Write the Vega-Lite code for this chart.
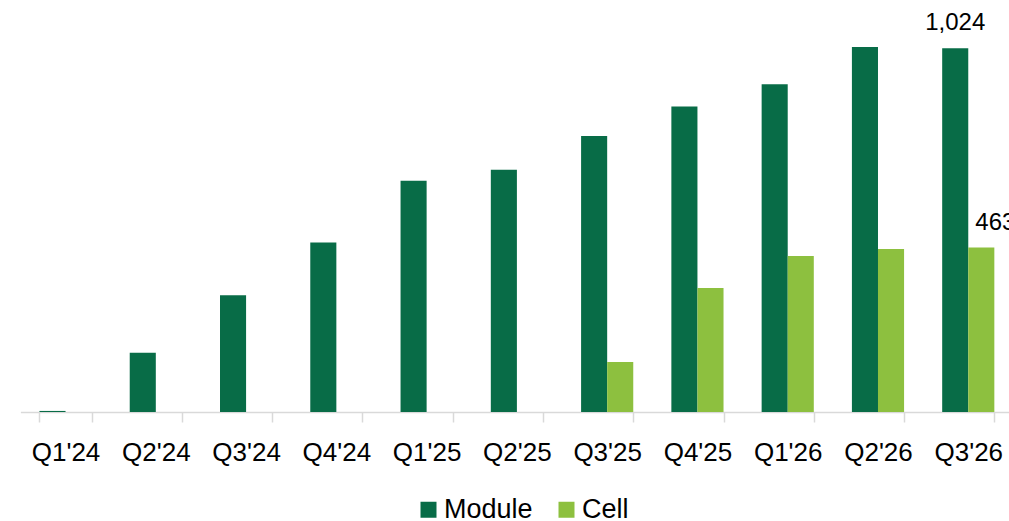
{
  "$schema": "https://vega.github.io/schema/vega-lite/v6.json",
  "width": 989,
  "height": 412,
  "autosize": {"type": "none"},
  "padding": {"left": 20, "top": 0, "right": 0, "bottom": 109},
  "background": "white",
  "config": {"view": {"stroke": null}, "font": "Liberation Sans"},
  "data": {
    "values": [
      {"quarter": "Q1'24", "series": "Module", "value": 3},
      {"quarter": "Q1'24", "series": "Cell", "value": 0},
      {"quarter": "Q2'24", "series": "Module", "value": 167},
      {"quarter": "Q2'24", "series": "Cell", "value": 0},
      {"quarter": "Q3'24", "series": "Module", "value": 329},
      {"quarter": "Q3'24", "series": "Cell", "value": 0},
      {"quarter": "Q4'24", "series": "Module", "value": 477},
      {"quarter": "Q4'24", "series": "Cell", "value": 0},
      {"quarter": "Q1'25", "series": "Module", "value": 651},
      {"quarter": "Q1'25", "series": "Cell", "value": 0},
      {"quarter": "Q2'25", "series": "Module", "value": 682},
      {"quarter": "Q2'25", "series": "Cell", "value": 0},
      {"quarter": "Q3'25", "series": "Module", "value": 777},
      {"quarter": "Q3'25", "series": "Cell", "value": 141},
      {"quarter": "Q4'25", "series": "Module", "value": 860},
      {"quarter": "Q4'25", "series": "Cell", "value": 349},
      {"quarter": "Q1'26", "series": "Module", "value": 923},
      {"quarter": "Q1'26", "series": "Cell", "value": 439},
      {"quarter": "Q2'26", "series": "Module", "value": 1028},
      {"quarter": "Q2'26", "series": "Cell", "value": 459},
      {"quarter": "Q3'26", "series": "Module", "value": 1024},
      {"quarter": "Q3'26", "series": "Cell", "value": 463}
    ]
  },
  "encoding": {
    "x": {
      "field": "quarter",
      "type": "nominal",
      "sort": null,
      "scale": {"paddingInner": 0.4222, "paddingOuter": 0.2111, "range": [0.4, 993.4]},
      "axis": {
        "title": null,
        "labelAngle": 0,
        "labelFontSize": 26,
        "labelColor": "#000000",
        "labelFont": "Liberation Sans",
        "labelBaseline": "alphabetic",
        "labelPadding": 38,
        "domainColor": "#d9d9d9",
        "domainWidth": 1.5,
        "tickColor": "#d9d9d9",
        "tickWidth": 1.5,
        "tickSize": 10,
        "tickBand": "extent"
      }
    },
    "xOffset": {"field": "series", "type": "nominal", "sort": ["Module", "Cell"], "scale": {"paddingInner": 0}},
    "y": {"field": "value", "type": "quantitative", "scale": {"domain": [0, 1160]}, "axis": null}
  },
  "layer": [
    {
      "mark": {"type": "bar"},
      "encoding": {
        "color": {
          "field": "series",
          "type": "nominal",
          "sort": ["Module", "Cell"],
          "scale": {"domain": ["Module", "Cell"], "range": ["#086c47", "#8dc03f"]},
          "legend": {
            "orient": "none",
            "legendX": 395,
            "legendY": 496,
            "direction": "horizontal",
            "title": null,
            "symbolType": "square",
            "symbolSize": 256,
            "symbolStrokeWidth": 0,
            "symbolOpacity": 1,
            "labelFontSize": 27,
            "labelColor": "#000000",
            "labelOffset": 2,
            "columnPadding": 20,
            "padding": 0
          }
        }
      }
    },
    {
      "transform": [{"filter": "datum.quarter === \"Q3'26\" && datum.series === 'Module'"}],
      "mark": {"type": "text", "baseline": "alphabetic", "align": "center", "dy": -18, "fontSize": 24, "color": "#000000"},
      "encoding": {"text": {"field": "value", "type": "quantitative", "format": ",d"}}
    },
    {
      "transform": [{"filter": "datum.quarter === \"Q3'26\" && datum.series === 'Cell'"}],
      "mark": {"type": "text", "baseline": "alphabetic", "align": "center", "dy": -18, "dx": 14, "fontSize": 24, "color": "#000000"},
      "encoding": {"text": {"field": "value", "type": "quantitative", "format": ",d"}}
    }
  ]
}
